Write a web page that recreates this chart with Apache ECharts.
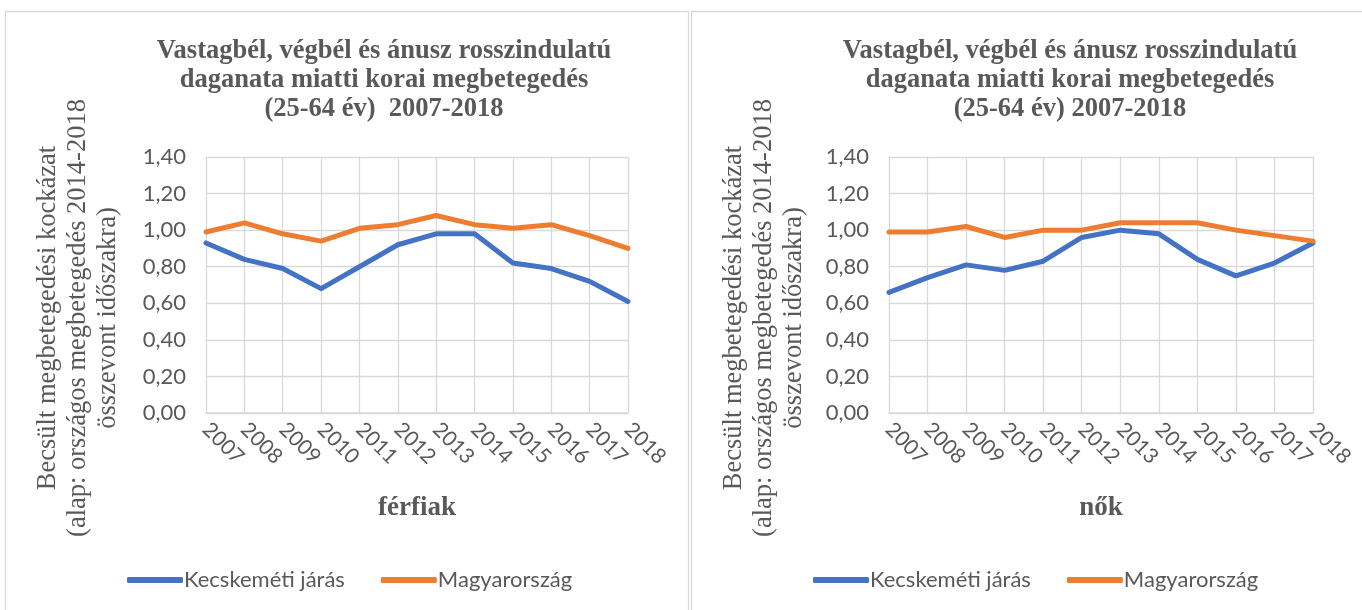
<!DOCTYPE html>
<html>
<head>
<meta charset="utf-8">
<script src="https://cdn.jsdelivr.net/npm/echarts@6/dist/echarts.min.js"></script>
<style>
  html, body { margin: 0; padding: 0; background: #fff; }
  #chart { width: 1362px; height: 610px; }
</style>
</head>
<body>
<div id="chart"></div>
<script>
// data
const years = ['2007','2008','2009','2010','2011','2012','2013','2014','2015','2016','2017','2018'];
const yTicks = [0, 0.2, 0.4, 0.6, 0.8, 1.0, 1.2, 1.4];
const seriesNames = ['Kecskeméti járás', 'Magyarország'];

const menKecskemet = [0.93, 0.84, 0.79, 0.68, 0.80, 0.92, 0.98, 0.98, 0.82, 0.79, 0.72, 0.61];
const menHungary   = [0.99, 1.04, 0.98, 0.94, 1.01, 1.03, 1.08, 1.03, 1.01, 1.03, 0.97, 0.90];
const womenKecskemet = [0.66, 0.74, 0.81, 0.78, 0.83, 0.96, 1.00, 0.98, 0.84, 0.75, 0.82, 0.93];
const womenHungary   = [0.99, 0.99, 1.02, 0.96, 1.00, 1.00, 1.04, 1.04, 1.04, 1.00, 0.97, 0.94];

const titleText = 'Vastagbél, végbél és ánusz rosszindulatú\ndaganata miatti korai megbetegedés\n(25-64 év)  2007-2018';
const titleText2 = 'Vastagbél, végbél és ánusz rosszindulatú\ndaganata miatti korai megbetegedés\n(25-64 év) 2007-2018';
const yName = 'Becsült megbetegedési kockázat\n(alap: országos megbetegedés 2014-2018\nösszevont időszakra)';

const BLUE = '#4472C4';
const ORANGE = '#ED7D31';
const GREY = '#595959';
const GRIDC = '#d9d9d9';
const SERIF = '"Liberation Serif", "Times New Roman", serif';
const SANS = 'Lato, "Open Sans", sans-serif';

const panels = [
  {x: 5, grid: {left: 206, top: 157, width: 422, height: 256}, title: titleText, xname: 'férfiak', data: [menKecskemet, menHungary]},
  {x: 691, grid: {left: 889, top: 157, width: 424, height: 256}, title: titleText2, xname: 'nők', data: [womenKecskemet, womenHungary]}
];

const chart = echarts.init(document.getElementById('chart'));

const option = {
  animation: false,
  backgroundColor: '#fff',
  title: panels.map(p => ({
    text: p.title,
    left: p.x + 374,
    top: 32,
    textAlign: 'center',
    textStyle: {fontFamily: SERIF, fontWeight: 'bold', fontSize: 26.5, color: GREY, lineHeight: 29}
  })),
  legend: panels.map(p => ({
    data: seriesNames,
    left: p.x + 117,
    top: 564,
    icon: 'roundRect',
    itemWidth: 56,
    itemHeight: 6,
    itemGap: 36,
    textStyle: {fontFamily: SANS, fontSize: 22, color: GREY, padding: [0, 0, 0, -4]}
  })),
  grid: panels.map(p => Object.assign({containLabel: false}, p.grid)),
  xAxis: panels.map((p, i) => ({
    type: 'category',
    gridIndex: i,
    data: years,
    boundaryGap: false,
    name: p.xname,
    nameLocation: 'middle',
    nameGap: 82,
    nameTextStyle: {fontFamily: SERIF, fontWeight: 'bold', fontSize: 27, color: GREY},
    axisLine: {lineStyle: {color: GRIDC, width: 1.5}},
    axisTick: {show: false},
    splitLine: {show: true, lineStyle: {color: GRIDC, width: 1.3}},
    axisLabel: {rotate: -45, margin: 13, fontFamily: SANS, fontSize: 21, color: GREY, interval: 0}
  })),
  yAxis: panels.map((p, i) => ({
    type: 'value',
    gridIndex: i,
    min: yTicks[0],
    max: yTicks[yTicks.length - 1],
    interval: 0.2,
    axisLine: {show: false},
    axisTick: {show: false},
    splitLine: {lineStyle: {color: GRIDC, width: 1.3}},
    axisLabel: {margin: 20, fontFamily: SANS, fontSize: 22, color: GREY,
      formatter: v => v.toFixed(2).replace('.', ',')}
  })),
  graphic: panels.flatMap(p => [
    {type: 'rect', shape: {x: p.x + 0.5, y: 11.5, width: 683, height: 620}, style: {fill: 'none', stroke: GRIDC, lineWidth: 1.3}, z: -1},
    {type: 'text', x: p.x + 73, y: 318, rotation: Math.PI / 2,
      style: {text: yName, fontFamily: SERIF, fontSize: 26.5, fill: GREY, align: 'center', verticalAlign: 'middle', lineHeight: 30}}
  ]),
  series: panels.flatMap((p, i) => p.data.map((d, k) => ({
    name: seriesNames[k],
    type: 'line',
    xAxisIndex: i,
    yAxisIndex: i,
    data: d,
    showSymbol: false,
    symbol: 'none',
    color: k === 0 ? BLUE : ORANGE,
    lineStyle: {width: 5, cap: 'round', join: 'round'}
  })))
};

chart.setOption(option);
</script>
</body>
</html>
